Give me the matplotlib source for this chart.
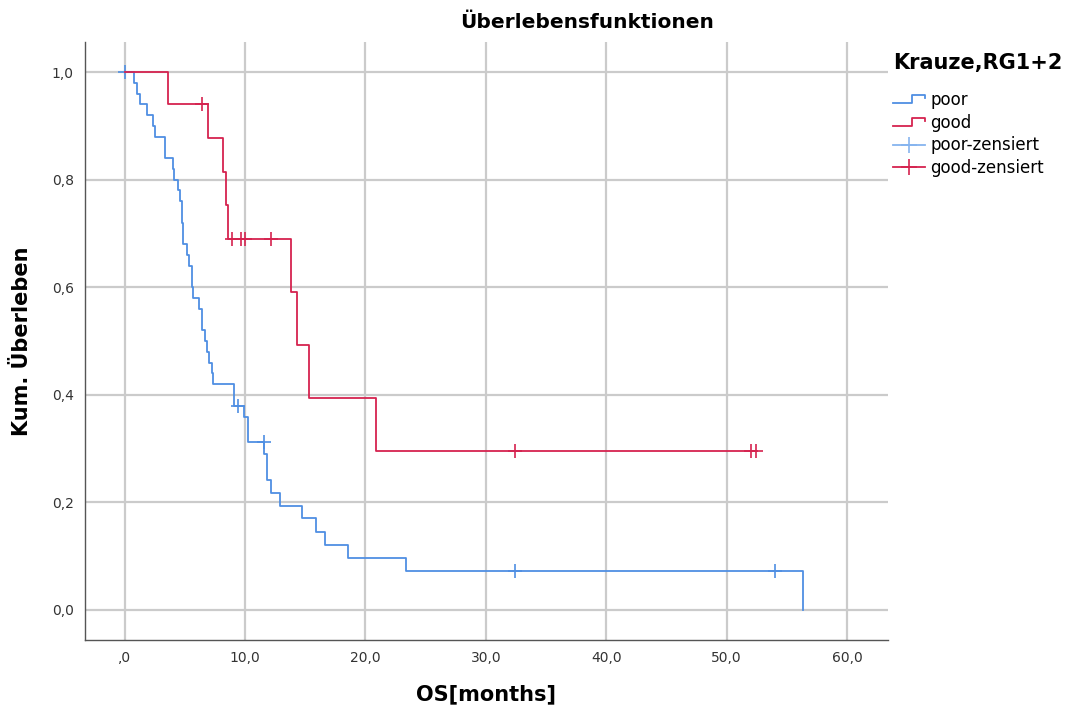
import numpy as np
import matplotlib
matplotlib.use("Agg")
import matplotlib.pyplot as plt
from matplotlib.lines import Line2D
from matplotlib.legend_handler import HandlerBase

# Kaplan-Meier steps (time in months, survival after the step)
poor_t = [0.81, 1.06, 1.31, 1.84, 2.39, 2.53, 3.36, 4.05, 4.13, 4.46, 4.61, 4.75,
          4.88, 5.16, 5.38, 5.58, 5.71, 6.21, 6.41, 6.68, 6.87, 7.04, 7.24, 7.37,
          9.09, 9.94, 10.27, 11.60, 11.80, 12.13, 12.90, 14.70, 15.87, 16.64,
          18.52, 23.34, 56.33]
poor_s = [0.98, 0.96, 0.94, 0.92, 0.90, 0.88, 0.84, 0.82, 0.80, 0.78, 0.76, 0.72,
          0.68, 0.66, 0.64, 0.60, 0.58, 0.56, 0.52, 0.50, 0.48, 0.46, 0.44, 0.42,
          0.38, 0.358, 0.313, 0.29, 0.2416, 0.217, 0.193, 0.170, 0.1444, 0.1208,
          0.0972, 0.0725, 0.0]
poor_cens = [0.0, 9.44, 11.55, 32.4, 54.0]

good_t = [3.6, 6.9, 8.2, 8.4, 8.6, 13.8, 14.3, 15.3, 20.85]
good_s = [0.941, 0.878, 0.815, 0.753, 0.690, 0.592, 0.493, 0.394, 0.296]
good_cens = [6.4, 8.9, 9.7, 10.0, 12.2, 32.4, 52.05, 52.45]

xticks = [0, 10, 20, 30, 40, 50, 60]
xlabels = [",0", "10,0", "20,0", "30,0", "40,0", "50,0", "60,0"]
yticks = [0.0, 0.2, 0.4, 0.6, 0.8, 1.0]
ylabels = ["0,0", "0,2", "0,4", "0,6", "0,8", "1,0"]

c_poor = "#4f8fe3"
c_good = "#d5234f"
c_poor_c = "#86b4ef"


def surv_at(times, surv, t):
    i = np.searchsorted(times, t, side="right")
    return 1.0 if i == 0 else surv[i - 1]


class StepHandler(HandlerBase):
    def create_artists(self, legend, orig, xd, yd, w, h, fs, trans):
        xs = [xd, xd + w * 0.6, xd + w * 0.6, xd + w, xd + w]
        ys = [yd + h * 0.15, yd + h * 0.15, yd + h * 0.85, yd + h * 0.85, yd + h * 0.6]
        ln = Line2D(xs, ys, color=orig.get_color(), lw=1.3, transform=trans)
        return [ln]


plt.rcParams['font.family'] = ['DejaVu Sans']
fig = plt.figure(figsize=(10.67, 7.13), dpi=100)
ax = fig.add_axes([0.0797, 0.1024, 0.7525, 0.8386])

# poor
pt = [0.0] + poor_t
ps = [1.0] + poor_s
ax.step(pt, ps, where="post", color=c_poor, lw=1.3)
ax.plot(poor_cens, [surv_at(poor_t, poor_s, t) for t in poor_cens], ls="none",
        marker="+", ms=10, mew=1.2, color=c_poor)

# good
gt = [0.0] + good_t + [max(good_cens)]
gs = [1.0] + good_s + [good_s[-1]]
ax.step(gt, gs, where="post", color=c_good, lw=1.3)
ax.plot(good_cens, [surv_at(good_t, good_s, t) for t in good_cens], ls="none",
        marker="+", ms=10, mew=1.2, color=c_good)

ax.set_xlim(-3.28, 63.4)
ax.set_ylim(-0.056, 1.056)
ax.set_xticks(xticks)
ax.set_xticklabels(xlabels)
ax.set_yticks(yticks)
ax.set_yticklabels(ylabels)
ax.grid(True, color="#cbcbcb", lw=1.6)
ax.set_axisbelow(True)
for s in ["top", "right"]:
    ax.spines[s].set_visible(False)
for s in ["left", "bottom"]:
    ax.spines[s].set_color("#555555")
    ax.spines[s].set_linewidth(1)
ax.tick_params(length=0, labelsize=10, colors="#333333", pad=8)

ax.set_xlabel("OS[months]", fontsize=15, fontweight="bold", labelpad=14)
ax.set_ylabel("Kum. Überleben", fontsize=15, fontweight="bold", labelpad=14)
fig.text(0.55, 0.968, "Überlebensfunktionen", fontsize=14.5, fontweight="bold",
         ha="center", va="center")

h_poor = Line2D([], [], color=c_poor)
h_good = Line2D([], [], color=c_good)
h_pc = Line2D([], [], color=c_poor_c, marker="+", ms=12, mew=1.2, lw=1.3)
h_gc = Line2D([], [], color=c_good, marker="+", ms=12, mew=1.2, lw=1.3)
leg = fig.legend([h_poor, h_good, h_pc, h_gc],
                 ["poor", "good", "poor-zensiert", "good-zensiert"],
                 handler_map={h_poor: StepHandler(), h_good: StepHandler()},
                 loc="upper left", bbox_to_anchor=(0.831, 0.935), frameon=False,
                 title="Krauze,RG1+2", fontsize=12, handlelength=1.9,
                 handletextpad=0.3, labelspacing=0.28, borderaxespad=0)
leg.get_title().set_fontweight("bold")
leg.get_title().set_fontsize(15)
leg._legend_box.align = "left"
leg._legend_box.sep = 13

fig.savefig("out.png", dpi=100)
